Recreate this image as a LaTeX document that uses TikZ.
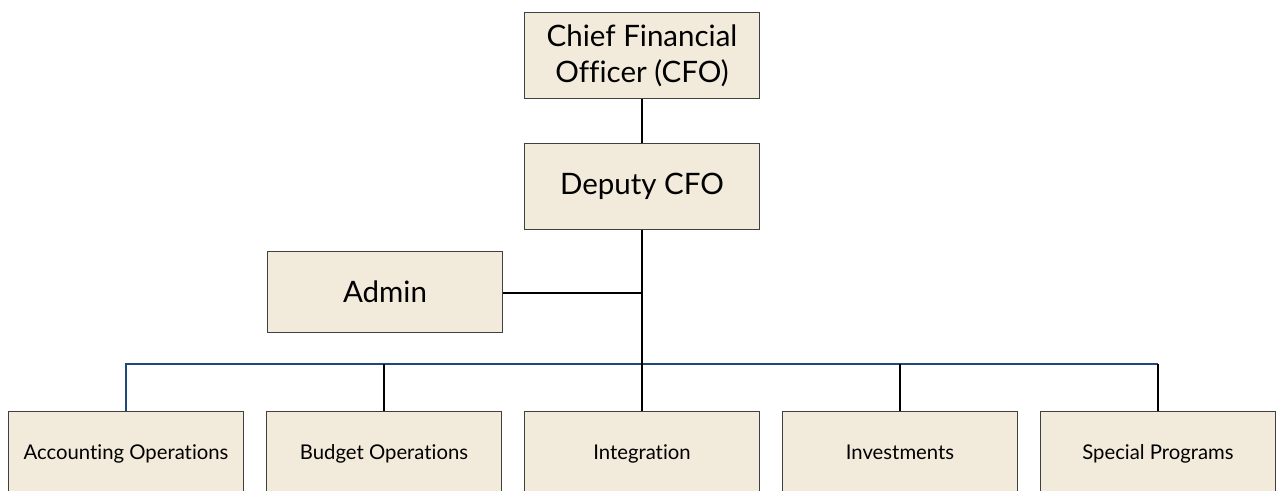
\documentclass[tikz,border=0pt]{standalone}
\usepackage{fontspec}
\setmainfont[Ligatures={NoCommon}]{Lato}
\definecolor{boxfill}{HTML}{F2EADB}
\definecolor{boxline}{HTML}{404040}
\definecolor{busblue}{HTML}{1F497D}
\tikzset{
  orgbox/.style={draw=boxline, line width=1pt, fill=boxfill, minimum width=235pt, inner sep=0pt, align=center, anchor=north west},
  bigbox/.style={orgbox, minimum height=86pt, font=\fontsize{29.5}{36}\selectfont},
  smallbox/.style={orgbox, minimum height=91pt, text height=0.72em, text depth=0.22em, font=\fontsize{20.3}{24}\selectfont},
  link/.style={line width=2.6pt, black},
  buslink/.style={line width=2.6pt, busblue}
}
\begin{document}
\begin{tikzpicture}[x=1pt,y=-1pt]
\useasboundingbox (0,0) rectangle (1276,490);
\clip (0,0) rectangle (1276,490);
\node[bigbox] (cfo) at (524,12) {Chief Financial\\Officer (CFO)};
\node[bigbox] (dep) at (524,143) {Deputy CFO};
\node[bigbox, minimum height=81pt] (adm) at (267,251) {Admin};
\node[smallbox] (acc) at (8,411) {Accounting Operations};
\node[smallbox] (bud) at (266,411) {Budget Operations};
\node[smallbox] (int) at (524,411) {Integration};
\node[smallbox] (inv) at (782,411) {Investments};
\node[smallbox] (spe) at (1040,411) {Special Programs};
\coordinate (bus) at (641.5,364);
\coordinate (admj) at (641.5,293);
\draw[buslink] (acc.north) -- (acc.north |- bus) -- (spe.north |- bus);
\draw[link] (cfo.south) -- (dep.north);
\draw[link] (dep.south) -- (int.north);
\draw[link] (adm.east |- admj) -- (admj);
\draw[link] (bud.north |- bus) -- (bud.north);
\draw[link] (inv.north |- bus) -- (inv.north);
\draw[link] (spe.north |- bus) -- (spe.north);
\end{tikzpicture}
\end{document}
